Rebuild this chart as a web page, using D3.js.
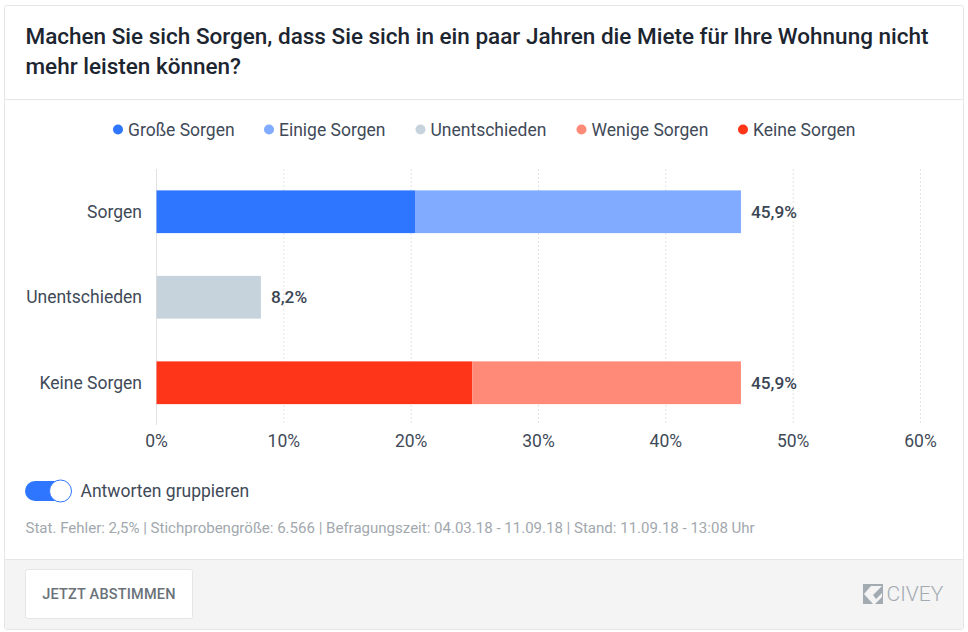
<!DOCTYPE html>
<html lang="de"><head><meta charset="utf-8">
<script src="https://cdn.jsdelivr.net/npm/d3@7"></script>
<style>
html,body{margin:0;padding:0;background:#fff;}
svg{display:block;font-family:Roboto,sans-serif;}
</style></head><body>
<svg id="c" width="968" height="632"></svg>
<script>
const titleLines = ["Machen Sie sich Sorgen, dass Sie sich in ein paar Jahren die Miete für Ihre Wohnung nicht","mehr leisten können?"];
const legendLabels = ["Große Sorgen","Einige Sorgen","Unentschieden","Wenige Sorgen","Keine Sorgen"];
const legendColors = ["#2e76ff","#80abff","#c7d3dc","#ff8a77","#ff3519"];
const legendX = [113,264,415.5,576.5,738];
const categories = ["Sorgen","Unentschieden","Keine Sorgen"];
const seriesA = [20.3,8.2,24.8];
const seriesB = [25.6,0,21.1];
const colorsA = ["#2e76ff","#c7d3dc","#ff3519"];
const colorsB = ["#80abff","#c7d3dc","#ff8a77"];
const totalLabels = ["45,9%","8,2%","45,9%"];
const xTicks = [0,10,20,30,40,50,60];
const toggleLabel = "Antworten gruppieren";
const metaText = "Stat. Fehler: 2,5% | Stichprobengröße: 6.566 | Befragungszeit: 04.03.18 - 11.09.18 | Stand: 11.09.18 - 13:08 Uhr";
const buttonLabel = "JETZT ABSTIMMEN";
const brand = "CIVEY";

const svg = d3.select("#c");
// card
svg.append("rect").attr("x",4.5).attr("y",5.5).attr("width",959).attr("height",624).attr("rx",2).attr("fill","#fff").attr("stroke","#e6e6e6");
svg.append("line").attr("x1",5).attr("x2",963).attr("y1",99.5).attr("y2",99.5).attr("stroke","#e6e6e6");
svg.append("rect").attr("x",5).attr("y",559).attr("width",958).attr("height",70).attr("fill","#f4f4f4");
svg.append("line").attr("x1",5).attr("x2",963).attr("y1",559.5).attr("y2",559.5).attr("stroke","#e6e6e6");
// title
svg.selectAll("text.t").data(titleLines).join("text").attr("class","t")
 .attr("x",25.5).attr("y",(d,i)=>44+i*30).attr("font-size",22.5).attr("font-weight",500).attr("fill","#1c2530").text(d=>d);
// legend
const lg = svg.selectAll("g.l").data(legendLabels).join("g").attr("class","l").attr("transform",(d,i)=>`translate(${legendX[i]},0)`);
lg.append("circle").attr("cx",5).attr("cy",129.5).attr("r",5).attr("fill",(d,i)=>legendColors[i]);
lg.append("text").attr("x",15).attr("y",136).attr("font-size",17.5).attr("fill","#3f4a58").text(d=>d);
// scales
const x = d3.scaleLinear().domain([0,60]).range([156.5,920.5]);
const y = d3.scaleBand().domain(categories).range([169,425.5]).paddingInner(0.5).paddingOuter(0.25);
// grid
svg.selectAll("line.g").data(xTicks).join("line").attr("class","g")
 .attr("x1",d=>x(d)).attr("x2",d=>x(d)).attr("y1",169).attr("y2",425)
 .attr("stroke",d=>d===0?"#e2e2e2":"#e4e4e4").attr("stroke-dasharray",d=>d===0?null:"2,2");
// bars
svg.selectAll("rect.a").data(categories).join("rect").attr("class","a")
 .attr("x",x(0)).attr("y",d=>y(d)).attr("height",y.bandwidth())
 .attr("width",(d,i)=>x(seriesA[i])-x(0)).attr("fill",(d,i)=>colorsA[i]);
svg.selectAll("rect.b").data(categories).join("rect").attr("class","b")
 .attr("x",(d,i)=>x(seriesA[i])).attr("y",d=>y(d)).attr("height",y.bandwidth())
 .attr("width",(d,i)=>x(seriesA[i]+seriesB[i])-x(seriesA[i])).attr("fill",(d,i)=>colorsB[i]);
// value labels
svg.selectAll("text.v").data(categories).join("text").attr("class","v")
 .attr("x",(d,i)=>x(seriesA[i]+seriesB[i])+10).attr("y",d=>y(d)+y.bandwidth()/2+6)
 .attr("font-size",17.3).attr("font-weight",500).attr("fill","#3a4553").text((d,i)=>totalLabels[i]);
// category labels
svg.selectAll("text.c").data(categories).join("text").attr("class","c")
 .attr("x",142).attr("y",d=>y(d)+y.bandwidth()/2+6).attr("text-anchor","end")
 .attr("font-size",17.5).attr("fill","#3f4a58").text(d=>d);
// x labels
svg.selectAll("text.x").data(xTicks).join("text").attr("class","x")
 .attr("x",d=>x(d)).attr("y",447).attr("text-anchor","middle")
 .attr("font-size",17.5).attr("fill","#3f4a58").text(d=>d+"%");
// toggle
svg.append("rect").attr("x",25).attr("y",481).attr("width",46).attr("height",20).attr("rx",10).attr("fill","#2e76ff");
svg.append("circle").attr("cx",60.5).attr("cy",491).attr("r",11).attr("fill","#fff").attr("stroke","#2e76ff").attr("stroke-width",1);
svg.append("text").attr("x",80.5).attr("y",497).attr("font-size",17.5).attr("fill","#3f4a58").text(toggleLabel);
svg.append("text").attr("x",25.5).attr("y",533).attr("font-size",15.04).attr("fill","#a2a8ae").text(metaText);
// button
svg.append("rect").attr("x",25.5).attr("y",569.5).attr("width",167).attr("height",49).attr("rx",2).attr("fill","#fff").attr("stroke","#e6e6e6");
svg.append("text").attr("x",109).attr("y",599).attr("text-anchor","middle").attr("font-size",14.5).attr("font-weight",500).attr("letter-spacing",0.2).attr("fill","#6a7279").text(buttonLabel);
// logo
svg.append("rect").attr("x",863).attr("y",584).attr("width",20).attr("height",20).attr("fill","#a3abb2");
svg.append("path").attr("d","M864 594 L871 586 H882 L873 595 L876 599 L882 593 V597 L875 604 H873 Z").attr("fill","#f4f4f4");
svg.append("text").attr("x",886.5).attr("y",601).attr("font-size",21).attr("font-weight",300).attr("fill","#a3abb2").text(brand);
</script></body></html>
